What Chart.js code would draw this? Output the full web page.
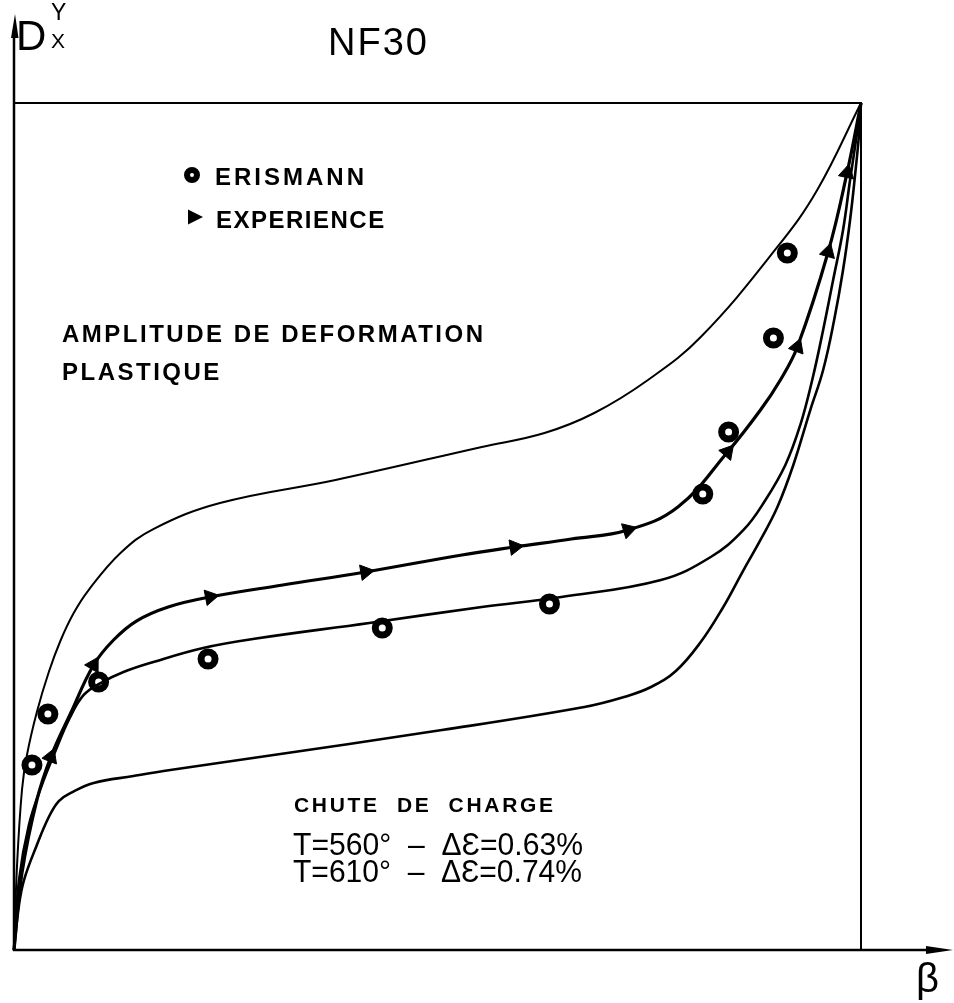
<!DOCTYPE html>
<html>
<head>
<meta charset="utf-8">
<script src="https://cdn.jsdelivr.net/npm/chart.js@4"></script>
<style>
html,body{margin:0;padding:0;background:#ffffff;}
canvas{display:block;}
</style>
</head>
<body>
<canvas id="c" width="954" height="1003"></canvas>
<script>
// ---- Data (normalised units: beta on x 0-100, D on y 0-100) ----
// upper envelope curve
const upperX = [0, 0.35, 0.94, 1.53, 2.70, 4.11, 5.52, 7.05, 8.81, 12.57, 16.45, 24.32, 37.96, 55.23, 62.63, 68.51, 74.85, 81.08, 90.13, 94.83, 100];
const upperY = [0, 9.80, 18.89, 23.02, 28.10, 32.82, 36.60, 39.79, 42.50, 46.87, 49.70, 52.77, 55.49, 59.39, 61.04, 63.40, 67.30, 72.37, 83.00, 89.73, 100];

// middle envelope curve
const middleX = [0, 0.59, 1.76, 3.29, 4.94, 6.58, 8.23, 10.22, 12.93, 16.45, 22.33, 28.20, 41.95, 55.23, 64.63, 76.38, 82.26, 86.13, 88.72, 91.07, 92.83, 94.24, 95.53, 96.71, 97.88, 98.71, 99.41, 100];
const middleY = [0, 8.26, 14.76, 19.48, 23.61, 27.39, 30.11, 31.52, 32.82, 34.00, 35.66, 36.72, 38.61, 40.50, 41.68, 43.68, 46.40, 49.59, 53.13, 57.26, 61.98, 67.30, 73.20, 79.10, 85.01, 90.91, 95.63, 100];

// lower envelope curve
const lowerX = [0, 0.59, 1.18, 2.70, 4.11, 5.29, 6.70, 9.40, 14.10, 18.45, 28.20, 50.53, 67.33, 72.03, 75.21, 78.14, 81.08, 83.67, 86.13, 88.13, 90.13, 92.01, 94.01, 95.53, 96.83, 97.88, 98.71, 99.30, 99.76, 100];
const lowerY = [0, 5.31, 8.26, 12.40, 15.70, 17.59, 18.54, 19.72, 20.54, 21.25, 22.67, 25.97, 28.69, 29.87, 31.05, 32.94, 36.36, 40.38, 44.86, 48.41, 52.30, 57.26, 63.75, 68.48, 74.38, 80.28, 86.19, 91.50, 96.22, 100];

// EXPERIENCE curve
const expX = [0, 0.94, 2.70, 4.35, 6.70, 9.40, 11.75, 14.45, 18.21, 23.15, 31.73, 41.48, 52.88, 59.11, 65.80, 72.50, 78.38, 84.25, 88.13, 90.48, 92.48, 96.12, 98.35, 100];
const expY = [0, 9.09, 17.71, 22.79, 27.98, 33.65, 36.60, 38.84, 40.50, 41.68, 43.09, 44.63, 46.64, 47.58, 48.52, 49.59, 52.30, 58.80, 63.75, 67.30, 71.19, 82.41, 91.74, 100];
// EXPERIENCE triangle markers
const expMarkX = [4.35, 9.40, 23.15, 41.48, 59.11, 72.50, 84.25, 92.48, 96.12, 98.35];
const expMarkY = [22.79, 33.65, 41.68, 44.63, 47.58, 49.59, 58.80, 71.19, 82.41, 91.74];

// ERISMANN points
const erisX = [2.12, 4.00, 9.99, 22.91, 43.48, 63.22, 81.32, 84.37, 89.66, 91.30];
const erisY = [21.84, 27.86, 31.64, 34.36, 38.02, 40.85, 53.84, 61.16, 72.26, 82.29];

// ---- helpers ----
const zip = (xs, ys) => xs.map((x, i) => ({x: x, y: ys[i]}));
const FONT = '"Liberation Sans", Arial, Helvetica, sans-serif';

function markerRotation(ctx) {
  const chart = ctx.chart;
  const xs = chart.scales.x, ys = chart.scales.y;
  const mx = expMarkX[ctx.dataIndex];
  let i = expX.indexOf(mx);
  if (i < 0 || !xs || !ys) return 0;
  const p = Math.max(i - 1, 0), n = Math.min(i + 1, expX.length - 1);
  const dx = xs.getPixelForValue(expX[n]) - xs.getPixelForValue(expX[p]);
  const dy = ys.getPixelForValue(expY[n]) - ys.getPixelForValue(expY[p]);
  return Math.atan2(dy, dx) * 180 / Math.PI + 90;
}

const framePlugin = {
  id: 'frame',
  beforeDatasetsDraw(chart) {
    const c = chart.ctx, a = chart.chartArea;
    c.save();
    c.strokeStyle = '#000';
    c.fillStyle = '#000';
    c.lineCap = 'butt';
    // box top and right
    c.lineWidth = 2;
    c.beginPath();
    c.moveTo(a.left, a.top);
    c.lineTo(a.right, a.top);
    c.lineTo(a.right, a.bottom);
    c.stroke();
    // y axis with arrow
    c.lineWidth = 2.5;
    c.beginPath();
    c.moveTo(a.left, a.bottom + 1);
    c.lineTo(a.left, 30);
    c.stroke();
    c.beginPath();
    c.moveTo(a.left + 1, 14);
    c.lineTo(a.left - 3, 38);
    c.lineTo(a.left + 4.5, 38);
    c.closePath();
    c.fill();
    // x axis with arrow
    c.beginPath();
    c.moveTo(a.left - 1, a.bottom);
    c.lineTo(935, a.bottom);
    c.stroke();
    c.beginPath();
    c.moveTo(953, a.bottom);
    c.lineTo(926, a.bottom - 4);
    c.lineTo(926, a.bottom + 4);
    c.closePath();
    c.fill();
    c.restore();
  },
  afterDraw(chart) {
    const c = chart.ctx;
    c.save();
    c.fillStyle = '#000';
    c.textAlign = 'left';
    c.textBaseline = 'alphabetic';
    const txt = (s, x, y, font, ls, maxW) => {
      c.font = font;
      c.letterSpacing = (ls || 0) + 'px';
      if (maxW) c.fillText(s, x, y, maxW); else c.fillText(s, x, y);
    };
    // axis labels
    txt('D', 16, 50, '42px ' + FONT, 0);
    txt('Y', 51, 20, '23px ' + FONT, 0);
    txt('X', 51, 48, '21px ' + FONT, 0);
    txt('β', 916, 992, '40px ' + FONT, 0);
    // title
    txt('NF30', 328, 55, '38px ' + FONT, 2);
    // legend markers
    c.beginPath();
    c.arc(192, 175, 5, 0, Math.PI * 2);
    c.lineWidth = 6;
    c.strokeStyle = '#000';
    c.fillStyle = '#fff';
    c.fill();
    c.stroke();
    c.fillStyle = '#000';
    c.beginPath();
    c.moveTo(203, 217);
    c.lineTo(188, 209.5);
    c.lineTo(188, 224.5);
    c.closePath();
    c.fill();
    // legend text
    txt('ERISMANN', 215, 185, 'bold 24px ' + FONT, 3);
    txt('EXPERIENCE', 216, 228, 'bold 24px ' + FONT, 1.5);
    // annotations
    txt('AMPLITUDE DE DEFORMATION', 62, 342, 'bold 24px ' + FONT, 2.5);
    txt('PLASTIQUE', 62, 380, 'bold 24px ' + FONT, 2.5);
    txt('CHUTE  DE  CHARGE', 294, 812, 'bold 21px ' + FONT, 2.7, 262);
    txt('T=560°  –  ΔƐ=0.63%', 293, 855, '32px ' + FONT, 0, 290);
    txt('T=610°  –  ΔƐ=0.74%', 293, 882, '32px ' + FONT, 0, 289);
    c.restore();
  }
};

const lineDs = (label, xs, ys, w) => ({
  label: label,
  data: zip(xs, ys),
  showLine: true,
  borderColor: '#000',
  backgroundColor: '#000',
  borderWidth: w,
  pointRadius: 0,
  pointHoverRadius: 0,
  tension: 0.4,
  fill: false,
  clip: false
});

new Chart(document.getElementById('c'), {
  type: 'scatter',
  data: {
    datasets: [
      lineDs('upper', upperX, upperY, 2),
      lineDs('middle', middleX, middleY, 2.6),
      lineDs('lower', lowerX, lowerY, 2.6),
      lineDs('EXPERIENCE', expX, expY, 3.2),
      {
        label: 'EXPERIENCE markers',
        data: zip(expMarkX, expMarkY),
        showLine: false,
        pointStyle: 'triangle',
        pointRadius: 9,
        pointHoverRadius: 9,
        pointBackgroundColor: '#000',
        pointBorderColor: '#000',
        pointBorderWidth: 1,
        pointRotation: markerRotation,
        clip: false
      },
      {
        label: 'ERISMANN',
        data: zip(erisX, erisY),
        showLine: false,
        pointStyle: 'circle',
        pointRadius: 7,
        pointHoverRadius: 7,
        pointBackgroundColor: '#fff',
        pointBorderColor: '#000',
        pointBorderWidth: 7,
        clip: false
      }
    ]
  },
  options: {
    responsive: false,
    devicePixelRatio: 1,
    animation: false,
    events: [],
    layout: { padding: { left: 10, right: 93, top: 103, bottom: 53 } },
    scales: {
      x: { type: 'linear', min: 0, max: 100, display: false },
      y: { type: 'linear', min: 0, max: 100, display: false }
    },
    plugins: {
      legend: { display: false },
      tooltip: { enabled: false },
      title: { display: false }
    }
  },
  plugins: [framePlugin]
});
</script>
</body>
</html>
